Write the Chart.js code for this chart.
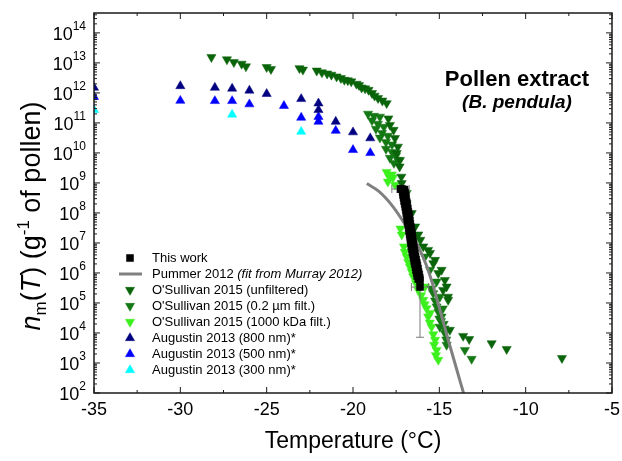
<!DOCTYPE html>
<html>
<head>
<meta charset="utf-8">
<script src="https://cdn.jsdelivr.net/npm/chart.js@4"></script>
<style>
  html, body { margin: 0; padding: 0; background: #fff; }
  canvas { display: block; }
</style>
</head>
<body>
<canvas id="chart" width="622" height="461"></canvas>
<script>
/* global Chart */

// ── Axes ─────────────────────────────────────────────────────────────────────
const xMin = -35, xMax = -5;
const yMin = 1e2, yMax = 4.6e14;
const xMajorTicks = [-35, -30, -25, -20, -15, -10, -5];
const xMinorTicks = [-32.5, -27.5, -22.5, -17.5, -12.5, -7.5];
const xTickLabels = ['-35', '-30', '-25', '-20', '-15', '-10', '-5'];
const yDecades    = [2, 3, 4, 5, 6, 7, 8, 9, 10, 11, 12, 13, 14];
const yTickLabels = ['2', '3', '4', '5', '6', '7', '8', '9', '10', '11', '12', '13', '14'];

// ── Séries (T en °C, n_m en g-1) ─────────────────────────────────────────────
const thisWork = [
  [-17.16, 6.3e8], [-17.02, 6.0e8], [-17.12, 5.0e8], [-16.98, 4.6e8], [-17.10, 4.0e8], [-16.95, 3.7e8],
  [-17.07, 3.2e8], [-16.93, 2.9e8], [-17.04, 2.5e8], [-16.89, 2.3e8], [-17.00, 2.0e8], [-16.86, 1.8e8],
  [-16.97, 1.6e8], [-16.83, 1.4e8], [-16.94, 1.26e8], [-16.80, 1.1e8], [-16.91, 1.0e8], [-16.77, 9.0e7],
  [-16.88, 7.9e7], [-16.74, 7.0e7], [-16.85, 6.3e7], [-16.71, 5.6e7], [-16.83, 5.0e7], [-16.69, 4.4e7],
  [-16.80, 4.0e7], [-16.66, 3.5e7], [-16.77, 3.2e7], [-16.63, 2.8e7], [-16.75, 2.5e7], [-16.60, 2.2e7],
  [-16.72, 2.0e7], [-16.58, 1.8e7], [-16.69, 1.6e7], [-16.55, 1.4e7], [-16.67, 1.26e7], [-16.53, 1.1e7],
  [-16.64, 1.0e7], [-16.50, 9.0e6], [-16.62, 7.9e6], [-16.48, 7.0e6], [-16.59, 6.3e6], [-16.45, 5.6e6],
  [-16.56, 5.0e6], [-16.42, 4.5e6], [-16.52, 4.0e6], [-16.38, 3.5e6], [-16.49, 3.2e6], [-16.35, 2.8e6],
  [-16.45, 2.5e6], [-16.31, 2.2e6], [-16.42, 2.0e6], [-16.28, 1.8e6], [-16.38, 1.6e6], [-16.24, 1.4e6],
  [-16.35, 1.26e6], [-16.21, 1.1e6], [-16.31, 1.0e6], [-16.17, 9.0e5], [-16.28, 7.9e5], [-16.14, 7.0e5],
  [-16.22, 6.3e5], [-16.12, 5.8e5],
  [-17.25, 6.3e8], [-16.12, 3.4e5],
];
// barres d'erreur : [T, n, dT, nBas, nHaut]
const thisWorkErrors = [
  [-17.25, 6.3e8, 0.5, 4.8e8, 8.0e8],
  [-16.12, 3.4e5, 0.5, 7.2e3, 5.5e5],
];

const pummerFit = [
  [-19.2, 9.5e8], [-18.5, 5.2e8], [-17.7, 1.66e8], [-16.9, 3.5e7], [-16.3, 9.5e6], [-15.75, 1.8e6],
  [-15.4, 4.5e5], [-15.0, 7.0e4], [-14.5, 6.3e3], [-14.0, 6.3e2], [-13.6, 1.0e2], [-13.45, 5.0e1],
];

const osUnfiltered = [
  [-28.2, 1.55e13], [-27.3, 1.3e13], [-26.9, 1.05e13], [-26.45, 9.3e12], [-26.2, 7.6e12], [-25.0, 7.2e12],
  [-24.75, 6.2e12], [-23.1, 6.6e12], [-22.9, 5.9e12], [-22.1, 5.5e12], [-21.8, 4.8e12], [-21.5, 4.4e12],
  [-21.25, 4.0e12], [-20.95, 3.5e12], [-20.7, 3.1e12], [-20.5, 2.7e12], [-20.3, 2.6e12], [-20.1, 2.4e12],
  [-19.8, 2.0e12], [-19.65, 1.8e12], [-19.5, 1.5e12], [-19.3, 1.4e12], [-19.1, 1.25e12], [-18.9, 9.8e11],
  [-18.75, 8.0e11], [-18.55, 6.7e11], [-18.3, 5.5e11], [-18.05, 4.5e11], [-17.95, 1.4e11], [-17.86, 8.5e10],
  [-17.65, 5.8e10], [-17.57, 3.1e10], [-17.4, 1.6e10], [-17.47, 9.8e9], [-17.28, 5.8e9], [-17.3, 3.5e9],
  [-17.2, 1.6e9], [-17.18, 9.8e8], [-17.1, 5.8e8], [-17.0, 3.5e8], [-16.9, 2.1e8], [-16.6, 9.8e7],
  [-16.4, 3.5e7], [-16.22, 1.9e7], [-16.1, 1.26e7], [-15.93, 7.6e6], [-15.65, 5.8e6], [-15.54, 4.6e6],
  [-15.25, 2.7e6], [-15.35, 2.1e6], [-14.87, 1.26e6], [-15.06, 9.8e5], [-14.68, 5.8e5], [-14.58, 3.5e5],
  [-14.78, 2.7e5], [-14.5, 1.6e5], [-14.49, 1.26e5], [-14.39, 1.26e4], [-13.62, 7.9e3], [-13.27, 6.2e3],
  [-11.97, 4.5e3], [-11.1, 2.9e3], [-7.9, 1.45e3],
];

const os02Filt = [
  [-19.13, 2.0e11], [-18.79, 1.7e11], [-18.44, 1.6e11], [-18.9, 1.2e11], [-18.56, 9.3e10], [-18.21, 7.4e10],
  [-18.67, 6.3e10], [-18.32, 4.6e10], [-17.98, 3.7e10], [-18.44, 3.2e10], [-18.09, 2.3e10], [-17.74, 1.9e10],
  [-18.09, 1.35e10], [-17.74, 1.07e10], [-17.51, 7.9e9], [-17.86, 6.8e9], [-17.4, 5.8e9], [-17.63, 4.6e9],
  [-16.89, 4.6e8], [-15.83, 3.5e6], [-15.54, 1.26e6], [-15.16, 5.1e5], [-15.45, 3.0e5], [-15.35, 2.1e5],
  [-14.97, 1.6e5], [-15.25, 1.2e5], [-15.16, 7.6e4], [-14.8, 6.5e4], [-15.05, 5.0e4], [-14.87, 3.5e4],
  [-15.0, 3.0e4], [-14.9, 2.5e4], [-14.75, 2.0e4], [-14.97, 1.6e4], [-14.7, 1.4e4], [-14.68, 9.8e3],
  [-14.6, 6.0e3], [-14.58, 4.0e3], [-13.52, 2.7e3], [-13.13, 1.36e3],
];

const os1000kDa = [
  [-18.05, 2.3e9], [-17.75, 1.9e9], [-17.9, 1.6e9], [-17.69, 1.5e9], [-17.98, 1.1e9], [-17.57, 8.6e8],
  [-17.25, 3.0e7], [-17.18, 1.9e7], [-17.05, 7.6e6], [-17.0, 5.0e6], [-16.89, 3.5e6], [-16.8, 2.3e6],
  [-16.7, 1.6e6], [-16.6, 1.1e6], [-16.51, 7.6e5], [-16.35, 4.5e5], [-16.22, 2.7e5], [-16.05, 1.8e5],
  [-15.93, 1.26e5], [-15.83, 3.5e5], [-15.85, 9.0e4], [-15.74, 6.6e4], [-15.54, 4.6e4], [-15.65, 3.5e4],
  [-15.55, 2.2e4], [-15.45, 1.6e4], [-15.35, 9.0e3], [-15.25, 5.9e3], [-15.3, 4.0e3], [-15.16, 2.7e3],
  [-15.2, 1.8e3], [-15.06, 1.26e3],
];

const aug800 = [
  [-35, 1.5e12], [-30, 1.7e12], [-28, 1.5e12], [-27, 1.4e12], [-26, 1.2e12], [-25, 9.3e11],
  [-23, 6.3e11], [-22, 4.5e11], [-22, 2.7e11], [-21, 1.1e11], [-20, 4.9e10], [-19, 3.1e10],
];
const aug500 = [
  [-35, 7.4e11], [-30, 5.5e11], [-28, 5.4e11], [-27, 5.4e11], [-26, 4.2e11], [-24, 3.7e11],
  [-23, 1.5e11], [-22, 1.6e11], [-22, 1.1e11], [-21, 5.5e10], [-20, 1.26e10], [-19, 1.0e10],
];
const aug300 = [
  [-35, 2.7e11], [-27, 1.9e11], [-23, 5.1e10],
];

const seriesLabels = [
  'This work',
  'Pummer 2012',
  "O'Sullivan 2015 (unfiltered)",
  "O'Sullivan 2015 (0.2 \u00b5m filt.)",
  "O'Sullivan 2015 (1000 kDa filt.)",
  'Augustin 2013 (800 nm)*',
  'Augustin 2013 (500 nm)*',
  'Augustin 2013 (300 nm)*',
];
const seriesColors = ['#000000', '#808080', '#0a640a', '#147814', '#3cf01e', '#000080', '#0000ff', '#00ffff'];

// ── Construction ─────────────────────────────────────────────────────────────
const FONT = "'Liberation Sans', Arial, sans-serif";
const toPts = arr => arr.map(([x, y]) => ({ x, y }));

function scatterSet(i, data, style, rotation) {
  return {
    label: seriesLabels[i],
    data: toPts(data),
    showLine: false,
    pointStyle: style,
    rotation: rotation || 0,
    pointRadius: style === 'rect' ? 5 : 5.3,
    pointHoverRadius: 5.3,
    backgroundColor: seriesColors[i],
    borderColor: seriesColors[i],
    pointBorderWidth: 0.5,
    clip: 0,
  };
}

const datasets = [
  scatterSet(0, thisWork, 'rect'),
  {
    label: seriesLabels[1],
    data: toPts(pummerFit),
    showLine: true,
    pointRadius: 0,
    borderColor: seriesColors[1],
    borderWidth: 3,
    cubicInterpolationMode: 'monotone',
    clip: 0,
  },
  scatterSet(2, osUnfiltered, 'triangle', 180),
  scatterSet(3, os02Filt, 'triangle', 180),
  scatterSet(4, os1000kDa, 'triangle', 180),
  scatterSet(5, aug800, 'triangle'),
  scatterSet(6, aug500, 'triangle'),
  scatterSet(7, aug300, 'triangle'),
];

function drawRuns(ctx, runs, x, y) {
  // runs : [texte, police, décalage vertical]
  let total = 0;
  runs.forEach(r => { ctx.font = r[1]; total += ctx.measureText(r[0]).width; });
  let cx = x - total / 2;
  runs.forEach(r => {
    ctx.font = r[1];
    ctx.fillText(r[0], cx, y + (r[2] || 0));
    cx += ctx.measureText(r[0]).width;
  });
}

const overlay = {
  id: 'overlay',
  beforeDatasetDraw(chart, args) {
    if (args.index !== 0) return;
    const { ctx, scales: { x, y } } = chart;
    ctx.save();
    ctx.strokeStyle = '#7a7a7a';
    ctx.lineWidth = 1;
    thisWorkErrors.forEach(([t, n, dt, lo, hi]) => {
      const px = x.getPixelForValue(t), py = y.getPixelForValue(n);
      const x0 = x.getPixelForValue(t - dt), x1 = x.getPixelForValue(t + dt);
      const y0 = y.getPixelForValue(lo), y1 = y.getPixelForValue(hi);
      ctx.beginPath();
      ctx.moveTo(x0, py); ctx.lineTo(x1, py);
      ctx.moveTo(x0, py - 4); ctx.lineTo(x0, py + 4);
      ctx.moveTo(x1, py - 4); ctx.lineTo(x1, py + 4);
      ctx.moveTo(px, y0); ctx.lineTo(px, y1);
      ctx.moveTo(px - 4, y0); ctx.lineTo(px + 4, y0);
      ctx.moveTo(px - 4, y1); ctx.lineTo(px + 4, y1);
      ctx.stroke();
    });
    ctx.restore();
  },
  afterDraw(chart) {
    const { ctx, chartArea: a, scales: { x, y } } = chart;
    ctx.save();

    // cadre + graduations intérieures
    ctx.strokeStyle = '#1a1a1a';
    ctx.lineWidth = 1.5;
    ctx.strokeRect(a.left, a.top, a.right - a.left, a.bottom - a.top);
    ctx.lineWidth = 1;
    ctx.beginPath();
    const xTick = (v, len) => {
      const px = x.getPixelForValue(v);
      ctx.moveTo(px, a.bottom); ctx.lineTo(px, a.bottom - len);
      ctx.moveTo(px, a.top); ctx.lineTo(px, a.top + len);
    };
    xMajorTicks.forEach(v => xTick(v, 6));
    xMinorTicks.forEach(v => xTick(v, 3));
    const yTick = (v, len) => {
      const py = y.getPixelForValue(v);
      ctx.moveTo(a.left, py); ctx.lineTo(a.left + len, py);
      ctx.moveTo(a.right, py); ctx.lineTo(a.right - len, py);
    };
    yDecades.forEach(d => {
      for (let m = 1; m < 10; m++) {
        const v = m * Math.pow(10, d);
        if (v > yMax) break;
        yTick(v, m === 1 ? 6 : 3);
      }
    });
    ctx.stroke();

    // libellés
    ctx.fillStyle = '#000';
    ctx.textBaseline = 'middle';
    ctx.textAlign = 'center';
    ctx.font = `18px ${FONT}`;
    xMajorTicks.forEach((v, i) => ctx.fillText(xTickLabels[i], x.getPixelForValue(v), a.bottom + 17));

    yDecades.forEach((d, i) => {
      const py = y.getPixelForValue(Math.pow(10, d));
      ctx.textAlign = 'right';
      ctx.font = `12px ${FONT}`;
      const supW = ctx.measureText(yTickLabels[i]).width;
      ctx.fillText(yTickLabels[i], a.left - 8, py - 6);
      ctx.font = `18px ${FONT}`;
      ctx.fillText('10', a.left - 8 - supW, py + 2);
    });

    // titres d'axes
    ctx.textAlign = 'left';
    ctx.textBaseline = 'alphabetic';
    drawRuns(ctx, [['Temperature (\u00b0C)', `23px ${FONT}`]], (a.left + a.right) / 2, 448);

    ctx.save();
    ctx.translate(40, 216);
    ctx.rotate(-Math.PI / 2);
    drawRuns(ctx, [
      ['n', `italic 27px ${FONT}`],
      ['m', `17px ${FONT}`, 6],
      ['(', `27px ${FONT}`],
      ['T', `italic 27px ${FONT}`],
      [') (g', `27px ${FONT}`],
      ['-1', `17px ${FONT}`, -11],
      [' of pollen)', `27px ${FONT}`],
    ], 0, 0);
    ctx.restore();

    // annotation
    drawRuns(ctx, [['Pollen extract', `bold 22px ${FONT}`]], 517, 86);
    drawRuns(ctx, [['(B. pendula)', `italic bold 19px ${FONT}`]], 517, 108);

    // légende
    const rowY = [258, 274, 290, 306, 322, 338, 354, 370];
    const mx = 130, tx = 152;
    ctx.textBaseline = 'middle';
    datasets.forEach((ds, i) => {
      const yy = rowY[i];
      ctx.fillStyle = seriesColors[i];
      ctx.strokeStyle = seriesColors[i];
      if (i === 1) {
        ctx.lineWidth = 3;
        ctx.beginPath(); ctx.moveTo(119, yy); ctx.lineTo(142, yy); ctx.stroke();
      } else {
        ctx.lineWidth = 0.5;
        Chart.helpers.drawPoint(ctx, { pointStyle: ds.pointStyle, rotation: ds.rotation, radius: ds.pointRadius, borderWidth: 0.5 }, mx, yy);
      }
      ctx.fillStyle = '#000';
      ctx.textAlign = 'left';
      ctx.font = `13px ${FONT}`;
      ctx.fillText(seriesLabels[i], tx, yy);
      if (i === 1) {
        const w = ctx.measureText(seriesLabels[i] + ' ').width;
        ctx.font = `italic 13px ${FONT}`;
        ctx.fillText('(fit from Murray 2012)', tx + w, yy);
      }
    });
    ctx.restore();
  },
};

new Chart(document.getElementById('chart'), {
  type: 'scatter',
  data: { datasets },
  options: {
    responsive: false,
    animation: false,
    events: [],
    layout: { padding: { top: 13, right: 10, left: 0, bottom: 0 } },
    plugins: { legend: { display: false }, tooltip: { enabled: false } },
    scales: {
      x: {
        type: 'linear', min: xMin, max: xMax,
        grid: { display: false }, border: { display: false }, ticks: { display: false },
        afterFit: s => { s.height = 68; },
      },
      y: {
        type: 'logarithmic', min: yMin, max: yMax,
        grid: { display: false }, border: { display: false }, ticks: { display: false },
        afterFit: s => { s.width = 94; },
      },
    },
  },
  plugins: [overlay],
});
</script>
</body>
</html>
